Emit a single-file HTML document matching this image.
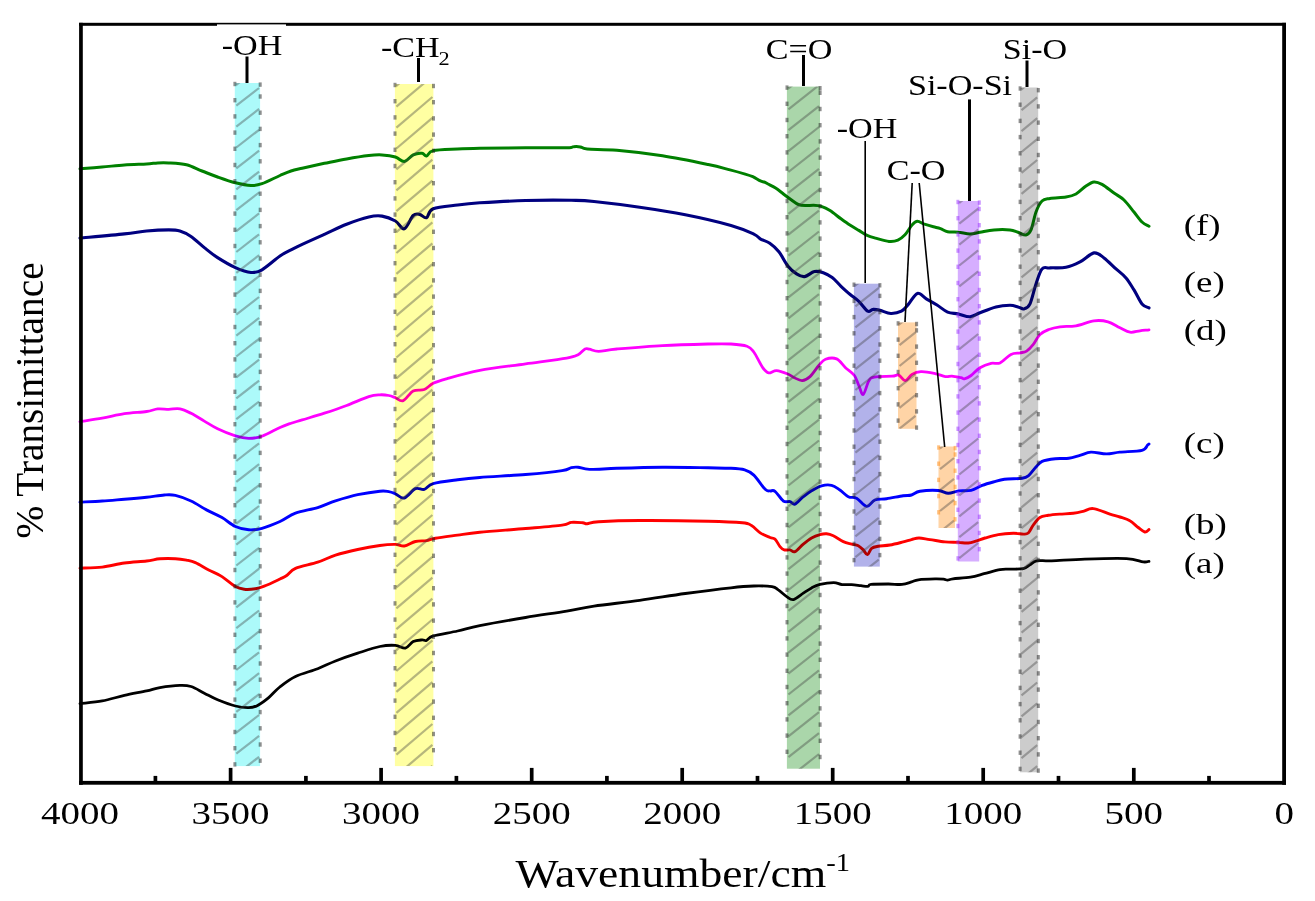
<!DOCTYPE html><html><head><meta charset="utf-8"><style>html,body{margin:0;padding:0;background:#fff;}svg{display:block;}</style></head><body><svg width="1315" height="901" viewBox="0 0 1315 901">
<rect width="1315" height="901" fill="#fff"/>
<path d="M80.0,168.8 C83.7,168.5 94.6,167.6 102.0,167.0 C109.4,166.4 117.0,165.5 124.4,165.0 C131.8,164.5 141.1,164.3 146.6,164.0 C152.1,163.7 154.0,163.1 157.7,162.9 C161.4,162.7 164.0,162.6 168.8,162.9 C173.6,163.2 181.0,163.5 186.5,164.8 C192.0,166.2 196.8,169.0 202.0,171.0 C207.2,173.0 212.0,175.0 217.6,177.0 C223.2,179.0 229.8,181.4 235.4,182.8 C241.0,184.2 246.6,185.3 251.0,185.5 C255.4,185.7 257.2,185.4 262.0,183.7 C266.8,182.0 275.2,177.6 280.0,175.5 C284.8,173.4 287.3,172.2 291.0,171.0 C294.7,169.8 296.6,169.5 302.2,168.2 C307.8,166.9 317.0,164.9 324.4,163.3 C331.8,161.8 339.2,160.2 346.6,158.9 C354.0,157.6 362.9,156.2 368.8,155.5 C374.7,154.8 377.7,154.7 382.1,154.9 C386.5,155.2 391.7,155.9 395.4,157.0 C399.1,158.1 401.3,161.8 404.3,161.5 C407.3,161.2 410.2,156.3 413.2,154.9 C416.1,153.5 419.8,153.1 422.0,153.3 C424.2,153.5 424.6,156.4 426.5,156.0 C428.4,155.6 428.0,151.8 433.2,150.6 C438.4,149.4 449.8,149.3 457.6,148.9 C465.4,148.5 468.5,148.4 479.8,148.2 C491.1,148.0 511.1,147.9 525.6,147.8 C540.1,147.7 558.7,148.0 566.7,147.8 C574.7,147.6 571.2,146.8 573.5,146.7 C575.8,146.5 578.1,146.5 580.4,146.9 C582.7,147.3 581.1,148.4 587.2,149.0 C593.3,149.6 604.4,149.2 616.9,150.3 C629.4,151.4 647.3,153.4 662.5,155.8 C677.7,158.2 697.0,162.2 708.2,164.5 C719.5,166.8 723.8,168.3 730.0,169.9 C736.2,171.5 741.4,173.0 745.2,174.1 C749.0,175.2 750.3,175.6 752.8,176.7 C755.3,177.8 758.5,180.0 760.4,180.9 C762.3,181.8 762.9,181.5 764.2,182.0 C765.5,182.5 766.1,183.0 768.0,184.0 C769.9,185.0 773.1,186.5 775.6,188.1 C778.1,189.7 780.7,191.9 783.2,193.8 C785.7,195.7 788.3,197.7 790.8,199.5 C793.3,201.3 795.9,203.5 798.4,204.5 C800.9,205.5 803.5,205.5 806.0,205.6 C808.5,205.7 811.1,205.1 813.6,205.2 C816.1,205.3 818.6,205.5 821.3,206.4 C824.0,207.3 826.7,208.5 830.0,210.6 C833.3,212.7 837.7,216.4 841.0,218.8 C844.3,221.2 846.9,223.1 849.9,225.0 C852.9,226.9 855.8,228.6 858.8,230.4 C861.8,232.2 864.7,234.4 867.7,235.7 C870.7,237.0 873.1,237.4 876.6,238.4 C880.1,239.4 885.5,241.1 889.0,241.4 C892.5,241.7 895.2,241.3 897.9,240.2 C900.6,239.1 902.6,237.3 905.0,234.8 C907.4,232.3 909.9,227.3 912.0,225.0 C914.1,222.7 915.3,221.3 917.4,221.2 C919.5,221.1 921.8,223.3 924.5,224.2 C927.2,225.1 930.7,226.1 933.4,226.8 C936.1,227.5 938.1,227.8 940.5,228.6 C942.9,229.4 944.6,231.2 947.6,231.8 C950.6,232.4 954.6,231.8 958.3,232.2 C962.0,232.5 966.4,233.9 970.0,233.9 C973.6,233.9 976.0,233.0 980.0,232.3 C984.0,231.6 989.0,230.3 994.0,229.9 C999.0,229.5 1006.0,229.5 1010.0,229.9 C1014.0,230.3 1015.3,231.5 1018.0,232.3 C1020.7,233.1 1023.8,235.3 1026.0,234.9 C1028.2,234.5 1029.3,233.7 1031.0,229.9 C1032.7,226.1 1034.2,216.8 1036.0,212.0 C1037.8,207.2 1039.7,203.3 1042.0,201.0 C1044.3,198.7 1046.0,199.1 1050.0,198.4 C1054.0,197.7 1061.7,197.7 1066.0,197.0 C1070.3,196.3 1072.7,195.8 1076.0,194.0 C1079.3,192.2 1083.0,188.0 1086.0,186.0 C1089.0,184.0 1091.3,182.3 1094.0,182.0 C1096.7,181.7 1098.7,182.6 1102.0,184.4 C1105.3,186.2 1110.3,190.4 1114.0,193.0 C1117.7,195.6 1120.7,196.8 1124.0,200.0 C1127.3,203.2 1131.0,208.3 1134.0,212.0 C1137.0,215.7 1139.5,219.6 1142.0,222.0 C1144.5,224.4 1147.8,225.6 1149.0,226.3" fill="none" stroke="#008000" stroke-width="3.0" stroke-linejoin="round" stroke-linecap="round"/>
<path d="M80.0,238.1 C87.4,237.4 113.3,235.1 124.4,233.9 C135.5,232.7 139.2,231.7 146.6,231.0 C154.0,230.3 163.2,229.9 168.8,229.9 C174.4,229.9 176.2,229.9 179.9,231.0 C183.6,232.1 186.9,233.7 191.0,236.5 C195.1,239.3 199.9,244.1 204.3,247.6 C208.7,251.1 212.4,254.3 217.6,257.6 C222.8,260.9 229.8,265.1 235.4,267.6 C241.0,270.1 246.6,272.1 251.0,272.5 C255.4,272.9 257.2,272.6 262.0,269.8 C266.8,267.1 275.2,259.3 280.0,256.0 C284.8,252.7 287.3,251.8 291.0,249.9 C294.7,248.0 296.6,246.9 302.2,244.3 C307.8,241.7 317.0,237.6 324.4,234.3 C331.8,231.0 339.2,227.2 346.6,224.3 C354.0,221.4 362.9,218.4 368.8,217.0 C374.7,215.6 377.7,215.4 382.1,216.1 C386.5,216.8 391.7,218.9 395.4,221.0 C399.1,223.1 401.3,229.7 404.3,228.8 C407.3,227.9 410.6,217.9 413.2,215.5 C415.8,213.1 417.6,214.0 419.8,214.4 C422.0,214.8 424.3,218.6 426.5,217.7 C428.7,216.8 428.0,210.9 433.2,208.8 C438.4,206.7 449.8,206.0 457.6,205.0 C465.4,204.0 468.5,203.6 479.8,202.8 C491.1,202.1 510.4,200.9 525.6,200.5 C540.9,200.1 559.9,200.1 571.3,200.3 C582.7,200.5 582.6,200.3 594.0,201.5 C605.4,202.7 624.5,205.0 639.7,207.2 C654.9,209.4 670.1,211.7 685.3,214.7 C700.5,217.7 719.6,222.2 731.0,225.4 C742.4,228.6 748.9,231.8 753.8,234.1 C758.7,236.4 757.9,237.6 760.6,239.1 C763.3,240.6 766.8,241.1 769.8,243.2 C772.8,245.3 775.9,247.9 778.9,251.7 C781.9,255.5 784.8,262.2 787.8,265.9 C790.8,269.6 793.8,272.1 796.6,273.9 C799.4,275.7 801.6,277.0 804.6,276.6 C807.6,276.2 811.3,272.2 814.4,271.6 C817.5,271.0 820.3,271.7 823.3,272.7 C826.3,273.7 829.2,275.2 832.2,277.5 C835.2,279.8 838.0,283.5 841.0,286.3 C844.0,289.1 846.9,291.8 849.9,294.3 C852.9,296.8 855.8,298.6 858.8,301.4 C861.8,304.2 865.3,309.9 867.7,311.2 C870.1,312.5 870.9,309.5 873.0,309.4 C875.1,309.2 877.1,309.6 880.1,310.3 C883.1,311.0 887.2,313.4 890.8,313.5 C894.3,313.6 898.4,312.8 901.4,311.2 C904.4,309.6 905.8,307.1 908.5,304.1 C911.2,301.1 914.4,294.3 917.4,293.4 C920.4,292.5 923.0,296.9 926.3,298.8 C929.6,300.7 933.5,302.8 937.0,305.0 C940.5,307.2 944.1,310.6 947.6,312.1 C951.1,313.6 954.6,313.1 958.3,313.9 C962.0,314.7 966.4,317.0 970.0,316.8 C973.6,316.6 975.7,314.5 980.0,312.8 C984.3,311.1 991.0,308.1 996.0,306.9 C1001.0,305.6 1006.3,305.3 1010.0,305.3 C1013.7,305.3 1015.7,306.3 1018.0,306.9 C1020.3,307.5 1022.0,309.4 1024.0,308.9 C1026.0,308.4 1028.0,308.1 1030.0,303.9 C1032.0,299.7 1034.0,289.7 1036.0,283.9 C1038.0,278.1 1039.7,271.6 1042.0,268.9 C1044.3,266.2 1046.0,268.2 1050.0,267.9 C1054.0,267.6 1061.0,268.3 1066.0,267.3 C1071.0,266.3 1075.3,264.3 1080.0,261.9 C1084.7,259.5 1090.0,253.6 1094.0,252.9 C1098.0,252.2 1100.3,255.2 1104.0,257.9 C1107.7,260.6 1112.3,265.6 1116.0,268.9 C1119.7,272.2 1123.0,274.4 1126.0,277.9 C1129.0,281.4 1131.3,285.6 1134.0,289.9 C1136.7,294.2 1139.5,300.9 1142.0,303.9 C1144.5,306.9 1147.8,307.2 1149.0,307.9" fill="none" stroke="#000080" stroke-width="3.1" stroke-linejoin="round" stroke-linecap="round"/>
<path d="M80.0,421.7 C83.7,421.1 94.8,419.5 102.2,418.2 C109.6,416.9 117.0,414.8 124.4,413.7 C131.8,412.6 141.1,412.3 146.6,411.5 C152.1,410.7 154.0,409.3 157.7,408.9 C161.4,408.5 165.1,409.3 168.8,409.3 C172.5,409.3 176.2,408.2 179.9,408.9 C183.6,409.6 186.9,411.3 191.0,413.3 C195.1,415.3 199.9,418.5 204.3,421.1 C208.7,423.7 212.4,426.3 217.6,428.8 C222.8,431.3 230.2,434.3 235.4,435.9 C240.6,437.5 244.3,438.3 248.7,438.4 C253.1,438.4 256.8,438.0 262.0,436.2 C267.2,434.4 275.1,429.7 280.0,427.5 C284.9,425.3 287.4,424.5 291.1,423.2 C294.8,421.9 296.6,421.6 302.2,419.9 C307.8,418.2 317.0,415.6 324.4,413.2 C331.8,410.8 339.2,408.3 346.6,405.5 C354.0,402.7 363.2,398.4 368.8,396.6 C374.4,394.8 376.6,395.0 379.9,394.8 C383.2,394.6 386.2,395.0 388.8,395.5 C391.4,396.0 393.0,396.8 395.4,397.7 C397.8,398.6 400.2,401.7 403.2,400.6 C406.2,399.5 409.7,392.9 413.2,391.0 C416.7,389.1 421.0,390.8 424.3,389.5 C427.6,388.2 429.5,385.1 433.2,383.3 C436.9,381.5 438.7,381.0 446.5,378.8 C454.3,376.6 466.6,372.9 479.8,370.4 C493.0,367.9 511.1,365.9 525.6,363.8 C540.1,361.8 558.0,359.6 566.7,358.1 C575.5,356.6 575.1,356.2 578.1,354.7 C581.1,353.2 583.1,349.9 585.0,349.0 C586.9,348.1 587.2,348.8 589.5,349.2 C591.8,349.6 594.0,351.3 598.6,351.3 C603.2,351.3 606.2,349.9 616.9,349.0 C627.5,348.1 647.3,346.4 662.5,345.6 C677.7,344.8 696.8,344.3 708.2,344.0 C719.6,343.7 724.5,343.6 731.0,344.0 C737.5,344.4 743.2,344.9 747.0,346.2 C750.8,347.5 751.1,348.4 753.8,352.0 C756.4,355.6 760.4,364.4 762.9,367.9 C765.4,371.4 766.3,372.4 768.6,372.9 C770.9,373.3 773.4,370.4 776.6,370.6 C779.8,370.8 784.8,372.8 787.8,374.0 C790.8,375.2 792.0,376.6 794.4,377.7 C796.8,378.8 799.6,380.8 802.2,380.6 C804.8,380.4 807.2,379.1 810.0,376.6 C812.8,374.1 816.2,368.4 818.8,365.5 C821.4,362.6 822.5,360.4 825.5,359.3 C828.5,358.2 833.3,357.5 836.6,358.9 C839.9,360.3 842.5,364.9 845.5,367.7 C848.5,370.5 852.2,372.5 854.4,375.5 C856.6,378.5 857.3,382.4 858.8,385.5 C860.3,388.6 861.5,395.1 863.2,394.4 C864.9,393.6 866.9,383.9 868.8,381.0 C870.6,378.1 870.4,377.9 874.3,377.1 C878.2,376.3 888.0,376.5 892.1,376.2 C896.2,375.9 896.5,374.4 898.7,375.1 C900.9,375.8 903.2,380.7 905.4,380.6 C907.6,380.5 909.4,375.9 912.0,374.4 C914.6,372.9 917.2,371.9 920.9,371.7 C924.6,371.5 930.2,372.5 934.3,373.3 C938.4,374.1 942.4,376.1 945.4,376.6 C948.4,377.1 949.4,376.0 952.0,376.2 C954.6,376.4 958.8,377.3 960.9,377.7 C963.0,378.1 962.7,379.2 964.4,378.8 C966.1,378.4 968.5,377.4 971.1,375.5 C973.7,373.6 976.7,369.7 980.0,367.7 C983.3,365.7 987.8,364.1 991.1,363.3 C994.4,362.5 996.7,364.4 1000.0,362.9 C1003.3,361.4 1007.7,356.1 1011.0,354.4 C1014.3,352.7 1017.4,353.4 1020.0,352.9 C1022.6,352.3 1024.4,352.5 1026.6,351.1 C1028.8,349.7 1031.1,347.2 1033.3,344.4 C1035.5,341.6 1037.4,336.9 1040.0,334.4 C1042.6,331.9 1045.5,330.8 1048.8,329.5 C1052.1,328.2 1055.5,327.4 1060.0,326.8 C1064.5,326.2 1070.3,326.8 1076.0,325.8 C1081.7,324.8 1088.7,321.5 1094.0,320.8 C1099.3,320.1 1103.7,320.6 1108.0,321.8 C1112.3,323.0 1116.3,326.1 1120.0,327.8 C1123.7,329.5 1126.7,331.7 1130.0,332.2 C1133.3,332.7 1136.8,331.2 1140.0,330.8 C1143.2,330.4 1147.5,330.0 1149.0,329.8" fill="none" stroke="#ff00ff" stroke-width="2.8" stroke-linejoin="round" stroke-linecap="round"/>
<path d="M80.0,502.1 C83.7,501.9 94.8,501.5 102.2,501.0 C109.6,500.5 117.0,499.8 124.4,499.2 C131.8,498.6 139.9,497.9 146.6,497.2 C153.2,496.5 159.5,495.3 164.3,495.0 C169.1,494.7 171.0,494.4 175.4,495.4 C179.8,496.4 185.8,498.6 191.0,501.0 C196.2,503.4 201.3,507.1 206.5,509.9 C211.7,512.7 217.2,514.8 222.0,517.6 C226.8,520.4 231.0,524.5 235.4,526.5 C239.8,528.5 244.3,529.5 248.7,529.8 C253.1,530.1 256.8,529.7 262.0,528.3 C267.2,526.9 274.4,524.0 280.0,521.5 C285.6,519.0 289.2,515.4 295.5,513.1 C301.8,510.8 311.0,509.6 317.7,507.6 C324.4,505.6 328.8,503.0 335.5,500.9 C342.2,498.8 350.3,496.3 357.7,494.7 C365.1,493.1 374.7,491.7 379.9,491.2 C385.1,490.7 386.2,491.2 388.8,491.6 C391.4,492.0 392.8,492.7 395.4,493.8 C398.0,494.9 401.0,498.9 404.3,498.0 C407.6,497.1 412.1,490.1 415.4,488.7 C418.7,487.3 421.3,490.2 424.3,489.4 C427.3,488.5 427.6,485.2 433.2,483.6 C438.8,482.0 449.8,480.8 457.6,479.8 C465.4,478.8 468.5,478.4 479.8,477.5 C491.1,476.6 511.9,475.6 525.6,474.5 C539.3,473.4 554.5,471.8 562.1,470.6 C569.7,469.5 568.6,468.2 571.3,467.6 C574.0,467.0 575.1,466.9 578.1,467.2 C581.1,467.5 583.0,469.2 589.5,469.4 C596.0,469.6 604.7,468.7 616.9,468.3 C629.1,467.9 647.3,467.3 662.5,467.2 C677.7,467.1 696.8,467.6 708.2,467.8 C719.6,468.0 724.9,468.0 731.0,468.3 C737.1,468.6 740.9,468.8 744.7,469.9 C748.5,471.0 750.4,471.9 753.8,475.1 C757.2,478.3 762.5,486.7 765.2,489.3 C767.9,491.9 768.4,490.6 770.0,490.9 C771.6,491.2 772.8,489.6 775.0,491.3 C777.2,493.0 780.8,499.3 783.3,501.0 C785.8,502.7 788.0,501.1 790.0,501.6 C792.0,502.1 792.8,504.9 795.0,504.1 C797.2,503.3 800.5,498.9 803.3,496.7 C806.1,494.5 808.5,492.6 811.6,490.8 C814.7,489.0 818.3,486.7 821.6,485.8 C824.9,484.9 828.6,484.6 831.6,485.3 C834.6,486.0 837.1,488.1 839.9,490.0 C842.7,491.9 845.5,495.3 848.3,496.7 C851.1,498.1 853.5,496.7 856.6,498.3 C859.7,499.9 863.6,506.1 866.6,506.4 C869.6,506.7 871.6,501.3 874.9,500.0 C878.2,498.7 881.9,499.4 886.6,498.7 C891.3,498.0 899.1,496.4 903.2,495.8 C907.4,495.2 908.7,495.8 911.5,495.0 C914.3,494.2 915.4,492.1 919.9,491.3 C924.4,490.6 933.5,490.2 938.2,490.5 C942.9,490.8 944.8,493.2 948.2,493.3 C951.6,493.4 954.9,491.4 958.7,490.9 C962.5,490.4 967.2,491.2 971.1,490.3 C975.0,489.4 978.5,486.8 982.2,485.4 C985.9,484.0 989.6,483.0 993.3,482.0 C997.0,481.0 999.6,479.8 1004.4,479.2 C1009.2,478.6 1018.1,478.9 1022.2,478.3 C1026.3,477.7 1026.6,477.2 1028.8,475.4 C1031.0,473.6 1033.3,469.9 1035.5,467.6 C1037.7,465.3 1038.8,462.9 1042.1,461.4 C1045.4,459.9 1051.0,459.2 1055.4,458.7 C1059.9,458.2 1064.7,458.9 1068.8,458.3 C1072.9,457.8 1076.2,456.4 1079.9,455.4 C1083.6,454.4 1086.6,452.4 1091.0,452.1 C1095.4,451.9 1101.7,453.9 1106.5,453.9 C1111.3,453.9 1113.9,452.7 1119.8,452.1 C1125.7,451.5 1137.4,451.5 1142.0,450.3 C1146.6,449.1 1146.4,446.1 1147.6,445.0 C1148.8,443.9 1148.8,444.2 1149.0,444.0" fill="none" stroke="#0000ff" stroke-width="2.9" stroke-linejoin="round" stroke-linecap="round"/>
<path d="M80.0,568.2 C83.7,568.0 94.8,568.0 102.2,567.1 C109.6,566.2 117.0,564.0 124.4,563.0 C131.8,562.0 140.7,561.7 146.6,561.0 C152.5,560.3 155.1,559.2 159.9,558.8 C164.7,558.4 171.0,558.5 175.4,558.7 C179.8,558.9 183.2,559.5 186.5,560.1 C189.8,560.8 191.7,561.0 195.4,562.6 C199.1,564.2 204.3,567.7 208.7,570.0 C213.1,572.3 217.6,573.8 222.0,576.6 C226.4,579.4 231.7,584.5 235.4,586.6 C239.1,588.7 241.0,588.9 244.3,589.3 C247.6,589.7 252.1,589.3 255.4,588.8 C258.7,588.3 260.1,587.8 264.2,586.2 C268.3,584.6 276.2,580.8 280.0,579.0 C283.8,577.2 284.1,577.3 286.7,575.5 C289.3,573.7 290.3,570.6 295.5,568.4 C300.7,566.2 311.0,564.4 317.7,562.2 C324.4,560.0 328.8,557.2 335.5,555.1 C342.2,553.0 350.3,551.1 357.7,549.5 C365.1,547.9 373.6,546.4 379.9,545.5 C386.2,544.6 391.3,544.3 395.4,544.4 C399.5,544.5 401.0,546.5 404.3,546.0 C407.6,545.5 411.7,542.4 415.4,541.5 C419.1,540.6 423.2,541.1 426.5,540.6 C429.8,540.1 430.2,539.1 435.4,538.2 C440.6,537.3 450.2,536.1 457.6,535.1 C465.0,534.1 468.5,533.4 479.8,532.3 C491.1,531.2 511.9,529.7 525.6,528.5 C539.3,527.3 554.5,526.1 562.1,525.1 C569.7,524.1 567.9,522.8 571.3,522.4 C574.7,522.0 580.1,522.6 582.7,522.8 C585.4,523.0 584.6,523.9 587.2,523.7 C589.9,523.5 589.9,522.2 598.6,521.7 C607.4,521.2 621.4,520.6 639.7,520.5 C658.0,520.4 691.1,520.8 708.2,521.2 C725.3,521.6 735.2,522.1 742.4,522.8 C749.6,523.5 748.5,523.9 751.5,525.6 C754.5,527.3 757.5,531.1 760.6,533.1 C763.7,535.1 767.6,536.5 770.0,537.5 C772.4,538.5 773.3,537.6 775.0,539.1 C776.7,540.6 778.5,544.8 780.0,546.6 C781.5,548.4 782.5,549.4 784.2,549.9 C785.9,550.4 788.2,549.6 790.0,549.9 C791.8,550.2 792.8,552.6 795.0,551.6 C797.2,550.6 800.5,546.4 803.3,544.1 C806.1,541.8 808.8,539.6 811.6,538.0 C814.4,536.4 817.5,535.3 820.0,534.6 C822.5,533.9 824.4,533.6 826.6,533.8 C828.8,534.0 830.5,534.5 833.3,535.8 C836.1,537.1 840.2,540.2 843.3,541.6 C846.3,543.0 849.1,543.4 851.6,544.1 C854.1,544.8 856.3,544.8 858.3,545.8 C860.2,546.8 861.8,548.4 863.3,549.9 C864.8,551.4 866.0,554.9 867.4,554.6 C868.8,554.3 869.8,549.7 871.6,548.3 C873.4,546.9 875.2,546.8 878.2,546.3 C881.2,545.8 885.7,545.7 889.9,545.0 C894.1,544.3 899.6,542.8 903.2,541.9 C906.8,541.0 908.9,540.2 911.5,539.6 C914.1,539.0 915.9,538.0 919.0,538.0 C922.1,538.0 925.6,539.0 929.9,539.6 C934.2,540.2 940.2,541.4 944.9,541.9 C949.6,542.4 954.3,542.2 958.2,542.4 C962.1,542.6 965.2,543.3 968.3,543.0 C971.4,542.7 973.9,541.6 976.7,540.8 C979.5,540.0 981.4,539.0 985.0,538.0 C988.6,537.0 993.6,535.4 998.3,534.6 C1003.0,533.8 1009.1,533.4 1013.3,533.3 C1017.5,533.2 1020.8,534.1 1023.3,534.1 C1025.8,534.1 1026.6,534.5 1028.3,533.0 C1030.0,531.5 1031.4,527.6 1033.3,525.0 C1035.2,522.4 1037.4,519.1 1039.9,517.5 C1042.4,515.9 1045.0,515.9 1048.3,515.3 C1051.6,514.7 1055.8,514.4 1059.9,514.1 C1064.1,513.8 1069.3,513.8 1073.2,513.3 C1077.1,512.8 1079.9,512.1 1083.2,511.3 C1086.5,510.5 1088.8,508.1 1093.2,508.6 C1097.7,509.1 1105.5,512.7 1109.9,514.1 C1114.4,515.5 1116.6,515.9 1119.9,517.0 C1123.2,518.1 1126.9,519.0 1129.9,520.8 C1133.0,522.5 1135.7,525.6 1138.2,527.5 C1140.7,529.4 1143.0,531.6 1144.8,532.0 C1146.6,532.4 1148.3,530.0 1149.0,529.6" fill="none" stroke="#ff0000" stroke-width="2.9" stroke-linejoin="round" stroke-linecap="round"/>
<path d="M80.0,703.6 C83.7,703.1 94.8,702.3 102.2,700.9 C109.6,699.5 117.0,697.1 124.4,695.4 C131.8,693.7 140.7,692.2 146.6,690.9 C152.5,689.6 154.3,688.5 159.9,687.6 C165.5,686.7 174.7,685.6 179.9,685.4 C185.1,685.2 186.9,685.2 191.0,686.5 C195.1,687.8 199.9,691.0 204.3,693.2 C208.7,695.4 212.4,697.7 217.6,699.8 C222.8,701.9 230.2,704.7 235.4,706.0 C240.6,707.3 245.0,707.7 248.7,707.6 C252.4,707.5 254.3,707.1 257.6,705.4 C260.9,703.7 265.0,700.7 268.7,697.6 C272.4,694.5 275.3,690.5 279.8,687.0 C284.3,683.5 289.2,679.5 295.5,676.5 C301.8,673.5 311.0,671.3 317.7,668.7 C324.4,666.1 328.8,663.6 335.5,661.0 C342.2,658.4 350.3,655.6 357.7,653.2 C365.1,650.8 373.6,647.8 379.9,646.5 C386.2,645.2 391.1,645.1 395.4,645.4 C399.6,645.7 402.4,648.7 405.4,648.1 C408.4,647.5 410.4,643.0 413.2,641.6 C416.0,640.2 419.8,640.1 422.0,639.9 C424.2,639.7 424.6,641.2 426.5,640.5 C428.4,639.8 428.0,637.5 433.2,635.9 C438.4,634.3 449.8,632.7 457.6,631.0 C465.4,629.3 468.5,627.9 479.8,625.6 C491.1,623.4 511.1,619.9 525.6,617.5 C540.1,615.1 555.3,613.0 566.7,611.1 C578.1,609.2 581.8,607.9 594.0,606.1 C606.2,604.3 624.5,602.5 639.7,600.4 C654.9,598.3 670.1,595.6 685.3,593.5 C700.5,591.4 719.6,589.0 731.0,587.8 C742.4,586.5 747.0,586.2 753.8,586.0 C760.6,585.8 767.9,586.1 772.0,586.7 C776.1,587.4 775.8,588.2 778.3,589.9 C780.8,591.5 784.2,595.0 786.7,596.6 C789.2,598.2 790.7,600.2 793.5,599.6 C796.3,599.0 800.3,595.2 803.3,593.2 C806.3,591.2 808.8,589.4 811.6,587.9 C814.4,586.4 816.3,585.3 820.0,584.4 C823.7,583.5 830.0,582.6 833.7,582.6 C837.4,582.6 839.0,584.3 842.0,584.6 C845.0,584.9 848.3,584.4 851.5,584.6 C854.7,584.8 858.3,585.4 861.0,585.7 C863.7,586.0 866.2,586.6 867.9,586.4 C869.6,586.2 867.6,584.8 871.0,584.4 C874.4,584.0 883.2,584.0 888.4,584.0 C893.6,584.0 898.1,584.8 902.0,584.4 C905.9,584.0 908.9,582.7 911.6,581.9 C914.3,581.1 914.5,580.3 918.4,579.8 C922.3,579.3 930.8,579.0 935.0,578.9 C939.2,578.8 941.4,579.0 943.5,579.2 C945.6,579.4 946.0,580.2 947.6,580.1 C949.2,580.0 949.2,579.3 953.0,578.8 C956.8,578.3 965.3,578.0 970.5,577.1 C975.7,576.2 979.1,575.0 984.0,573.7 C988.9,572.5 995.7,570.4 1000.0,569.6 C1004.3,568.8 1006.1,569.3 1010.0,569.1 C1013.9,568.9 1020.0,569.3 1023.3,568.6 C1026.6,567.9 1027.7,566.2 1029.9,564.9 C1032.1,563.6 1033.0,561.5 1036.6,560.8 C1040.2,560.1 1043.5,561.1 1051.6,560.8 C1059.6,560.5 1072.4,559.5 1084.9,559.1 C1097.4,558.7 1116.8,558.1 1126.5,558.6 C1136.2,559.1 1139.5,561.5 1143.2,561.9 C1147.0,562.3 1148.0,561.4 1149.0,561.3" fill="none" stroke="#000000" stroke-width="2.8" stroke-linejoin="round" stroke-linecap="round"/>
<defs><clipPath id="cb0"><rect x="234.8" y="83.0" width="25.3" height="683.1"/></clipPath><clipPath id="cb1"><rect x="394.9" y="84.0" width="38.5" height="682.1"/></clipPath><clipPath id="cb2"><rect x="786.9" y="86.6" width="33.1" height="682.1"/></clipPath><clipPath id="cb3"><rect x="853.9" y="283.7" width="25.9" height="282.9"/></clipPath><clipPath id="cb4"><rect x="898.0" y="322.4" width="18.5" height="106.4"/></clipPath><clipPath id="cb5"><rect x="938.5" y="446.5" width="16.5" height="81.5"/></clipPath><clipPath id="cb6"><rect x="957.8" y="201.0" width="21.4" height="360.5"/></clipPath><clipPath id="cb7"><rect x="1020.0" y="87.5" width="18.2" height="684.8"/></clipPath></defs>
<rect x="234.8" y="83.0" width="25.3" height="683.1" fill="rgb(172,250,250)" style="mix-blend-mode:multiply"/>
<g clip-path="url(#cb0)" stroke="#404040" stroke-opacity="0.38" stroke-width="2.2"><line x1="236.3" y1="84.8" x2="259.1" y2="67.1"/><line x1="236.3" y1="105.7" x2="259.1" y2="88.0"/><line x1="236.3" y1="126.6" x2="259.1" y2="108.9"/><line x1="236.3" y1="147.5" x2="259.1" y2="129.8"/><line x1="236.3" y1="168.4" x2="259.1" y2="150.7"/><line x1="236.3" y1="189.3" x2="259.1" y2="171.6"/><line x1="236.3" y1="210.2" x2="259.1" y2="192.5"/><line x1="236.3" y1="231.1" x2="259.1" y2="213.4"/><line x1="236.3" y1="252.0" x2="259.1" y2="234.3"/><line x1="236.3" y1="272.9" x2="259.1" y2="255.2"/><line x1="236.3" y1="293.8" x2="259.1" y2="276.1"/><line x1="236.3" y1="314.7" x2="259.1" y2="297.0"/><line x1="236.3" y1="335.6" x2="259.1" y2="317.9"/><line x1="236.3" y1="356.5" x2="259.1" y2="338.8"/><line x1="236.3" y1="377.4" x2="259.1" y2="359.7"/><line x1="236.3" y1="398.3" x2="259.1" y2="380.6"/><line x1="236.3" y1="419.2" x2="259.1" y2="401.5"/><line x1="236.3" y1="440.1" x2="259.1" y2="422.4"/><line x1="236.3" y1="461.0" x2="259.1" y2="443.3"/><line x1="236.3" y1="481.9" x2="259.1" y2="464.2"/><line x1="236.3" y1="502.8" x2="259.1" y2="485.1"/><line x1="236.3" y1="523.7" x2="259.1" y2="506.0"/><line x1="236.3" y1="544.6" x2="259.1" y2="526.9"/><line x1="236.3" y1="565.5" x2="259.1" y2="547.8"/><line x1="236.3" y1="586.4" x2="259.1" y2="568.7"/><line x1="236.3" y1="607.3" x2="259.1" y2="589.6"/><line x1="236.3" y1="628.2" x2="259.1" y2="610.5"/><line x1="236.3" y1="649.1" x2="259.1" y2="631.4"/><line x1="236.3" y1="670.0" x2="259.1" y2="652.3"/><line x1="236.3" y1="690.9" x2="259.1" y2="673.2"/><line x1="236.3" y1="711.8" x2="259.1" y2="694.1"/><line x1="236.3" y1="732.7" x2="259.1" y2="715.0"/><line x1="236.3" y1="753.6" x2="259.1" y2="735.9"/><line x1="236.3" y1="774.5" x2="259.1" y2="756.8"/><line x1="236.3" y1="795.4" x2="259.1" y2="777.7"/></g>
<g fill="#202020" fill-opacity="0.5"><rect x="233.4" y="81.8" width="3" height="4.4"/><rect x="233.4" y="98.0" width="3" height="4.4"/><rect x="233.4" y="114.2" width="3" height="4.4"/><rect x="233.4" y="130.4" width="3" height="4.4"/><rect x="233.4" y="146.6" width="3" height="4.4"/><rect x="233.4" y="162.8" width="3" height="4.4"/><rect x="233.4" y="179.0" width="3" height="4.4"/><rect x="233.4" y="195.2" width="3" height="4.4"/><rect x="233.4" y="211.4" width="3" height="4.4"/><rect x="233.4" y="227.6" width="3" height="4.4"/><rect x="233.4" y="243.8" width="3" height="4.4"/><rect x="233.4" y="260.0" width="3" height="4.4"/><rect x="233.4" y="276.2" width="3" height="4.4"/><rect x="233.4" y="292.4" width="3" height="4.4"/><rect x="233.4" y="308.6" width="3" height="4.4"/><rect x="233.4" y="324.8" width="3" height="4.4"/><rect x="233.4" y="341.0" width="3" height="4.4"/><rect x="233.4" y="357.2" width="3" height="4.4"/><rect x="233.4" y="373.4" width="3" height="4.4"/><rect x="233.4" y="389.6" width="3" height="4.4"/><rect x="233.4" y="405.8" width="3" height="4.4"/><rect x="233.4" y="422.0" width="3" height="4.4"/><rect x="233.4" y="438.2" width="3" height="4.4"/><rect x="233.4" y="454.4" width="3" height="4.4"/><rect x="233.4" y="470.6" width="3" height="4.4"/><rect x="233.4" y="486.8" width="3" height="4.4"/><rect x="233.4" y="503.0" width="3" height="4.4"/><rect x="233.4" y="519.2" width="3" height="4.4"/><rect x="233.4" y="535.4" width="3" height="4.4"/><rect x="233.4" y="551.6" width="3" height="4.4"/><rect x="233.4" y="567.8" width="3" height="4.4"/><rect x="233.4" y="584.0" width="3" height="4.4"/><rect x="233.4" y="600.2" width="3" height="4.4"/><rect x="233.4" y="616.4" width="3" height="4.4"/><rect x="233.4" y="632.6" width="3" height="4.4"/><rect x="233.4" y="648.8" width="3" height="4.4"/><rect x="233.4" y="665.0" width="3" height="4.4"/><rect x="233.4" y="681.2" width="3" height="4.4"/><rect x="233.4" y="697.4" width="3" height="4.4"/><rect x="233.4" y="713.6" width="3" height="4.4"/><rect x="233.4" y="729.8" width="3" height="4.4"/><rect x="233.4" y="746.0" width="3" height="4.4"/><rect x="233.4" y="762.2" width="3" height="4.4"/><rect x="258.7" y="82.4" width="3" height="4.4"/><rect x="258.7" y="94.3" width="3" height="4.4"/><rect x="258.7" y="110.5" width="3" height="4.4"/><rect x="258.7" y="126.7" width="3" height="4.4"/><rect x="258.7" y="142.9" width="3" height="4.4"/><rect x="258.7" y="159.1" width="3" height="4.4"/><rect x="258.7" y="175.3" width="3" height="4.4"/><rect x="258.7" y="191.5" width="3" height="4.4"/><rect x="258.7" y="207.7" width="3" height="4.4"/><rect x="258.7" y="223.9" width="3" height="4.4"/><rect x="258.7" y="240.1" width="3" height="4.4"/><rect x="258.7" y="256.3" width="3" height="4.4"/><rect x="258.7" y="272.5" width="3" height="4.4"/><rect x="258.7" y="288.7" width="3" height="4.4"/><rect x="258.7" y="304.9" width="3" height="4.4"/><rect x="258.7" y="321.1" width="3" height="4.4"/><rect x="258.7" y="337.3" width="3" height="4.4"/><rect x="258.7" y="353.5" width="3" height="4.4"/><rect x="258.7" y="369.7" width="3" height="4.4"/><rect x="258.7" y="385.9" width="3" height="4.4"/><rect x="258.7" y="402.1" width="3" height="4.4"/><rect x="258.7" y="418.3" width="3" height="4.4"/><rect x="258.7" y="434.5" width="3" height="4.4"/><rect x="258.7" y="450.7" width="3" height="4.4"/><rect x="258.7" y="466.9" width="3" height="4.4"/><rect x="258.7" y="483.1" width="3" height="4.4"/><rect x="258.7" y="499.3" width="3" height="4.4"/><rect x="258.7" y="515.5" width="3" height="4.4"/><rect x="258.7" y="531.7" width="3" height="4.4"/><rect x="258.7" y="547.9" width="3" height="4.4"/><rect x="258.7" y="564.1" width="3" height="4.4"/><rect x="258.7" y="580.3" width="3" height="4.4"/><rect x="258.7" y="596.5" width="3" height="4.4"/><rect x="258.7" y="612.7" width="3" height="4.4"/><rect x="258.7" y="628.9" width="3" height="4.4"/><rect x="258.7" y="645.1" width="3" height="4.4"/><rect x="258.7" y="661.3" width="3" height="4.4"/><rect x="258.7" y="677.5" width="3" height="4.4"/><rect x="258.7" y="693.7" width="3" height="4.4"/><rect x="258.7" y="709.9" width="3" height="4.4"/><rect x="258.7" y="726.1" width="3" height="4.4"/><rect x="258.7" y="742.3" width="3" height="4.4"/><rect x="258.7" y="758.5" width="3" height="4.4"/></g>
<rect x="394.9" y="84.0" width="38.5" height="682.1" fill="rgb(255,255,162)" style="mix-blend-mode:multiply"/>
<g clip-path="url(#cb1)" stroke="#404040" stroke-opacity="0.38" stroke-width="2.2"><line x1="396.4" y1="85.8" x2="432.4" y2="55.2"/><line x1="396.4" y1="106.7" x2="432.4" y2="76.1"/><line x1="396.4" y1="127.6" x2="432.4" y2="97.0"/><line x1="396.4" y1="148.5" x2="432.4" y2="117.9"/><line x1="396.4" y1="169.4" x2="432.4" y2="138.8"/><line x1="396.4" y1="190.3" x2="432.4" y2="159.7"/><line x1="396.4" y1="211.2" x2="432.4" y2="180.6"/><line x1="396.4" y1="232.1" x2="432.4" y2="201.5"/><line x1="396.4" y1="253.0" x2="432.4" y2="222.4"/><line x1="396.4" y1="273.9" x2="432.4" y2="243.3"/><line x1="396.4" y1="294.8" x2="432.4" y2="264.2"/><line x1="396.4" y1="315.7" x2="432.4" y2="285.1"/><line x1="396.4" y1="336.6" x2="432.4" y2="306.0"/><line x1="396.4" y1="357.5" x2="432.4" y2="326.9"/><line x1="396.4" y1="378.4" x2="432.4" y2="347.8"/><line x1="396.4" y1="399.3" x2="432.4" y2="368.7"/><line x1="396.4" y1="420.2" x2="432.4" y2="389.6"/><line x1="396.4" y1="441.1" x2="432.4" y2="410.5"/><line x1="396.4" y1="462.0" x2="432.4" y2="431.4"/><line x1="396.4" y1="482.9" x2="432.4" y2="452.3"/><line x1="396.4" y1="503.8" x2="432.4" y2="473.2"/><line x1="396.4" y1="524.7" x2="432.4" y2="494.1"/><line x1="396.4" y1="545.6" x2="432.4" y2="515.0"/><line x1="396.4" y1="566.5" x2="432.4" y2="535.9"/><line x1="396.4" y1="587.4" x2="432.4" y2="556.8"/><line x1="396.4" y1="608.3" x2="432.4" y2="577.7"/><line x1="396.4" y1="629.2" x2="432.4" y2="598.6"/><line x1="396.4" y1="650.1" x2="432.4" y2="619.5"/><line x1="396.4" y1="671.0" x2="432.4" y2="640.4"/><line x1="396.4" y1="691.9" x2="432.4" y2="661.3"/><line x1="396.4" y1="712.8" x2="432.4" y2="682.2"/><line x1="396.4" y1="733.7" x2="432.4" y2="703.1"/><line x1="396.4" y1="754.6" x2="432.4" y2="724.0"/><line x1="396.4" y1="775.5" x2="432.4" y2="744.9"/><line x1="396.4" y1="796.4" x2="432.4" y2="765.8"/><line x1="396.4" y1="817.3" x2="432.4" y2="786.7"/></g>
<g fill="#202020" fill-opacity="0.5"><rect x="393.5" y="82.8" width="3" height="4.4"/><rect x="393.5" y="99.0" width="3" height="4.4"/><rect x="393.5" y="115.2" width="3" height="4.4"/><rect x="393.5" y="131.4" width="3" height="4.4"/><rect x="393.5" y="147.6" width="3" height="4.4"/><rect x="393.5" y="163.8" width="3" height="4.4"/><rect x="393.5" y="180.0" width="3" height="4.4"/><rect x="393.5" y="196.2" width="3" height="4.4"/><rect x="393.5" y="212.4" width="3" height="4.4"/><rect x="393.5" y="228.6" width="3" height="4.4"/><rect x="393.5" y="244.8" width="3" height="4.4"/><rect x="393.5" y="261.0" width="3" height="4.4"/><rect x="393.5" y="277.2" width="3" height="4.4"/><rect x="393.5" y="293.4" width="3" height="4.4"/><rect x="393.5" y="309.6" width="3" height="4.4"/><rect x="393.5" y="325.8" width="3" height="4.4"/><rect x="393.5" y="342.0" width="3" height="4.4"/><rect x="393.5" y="358.2" width="3" height="4.4"/><rect x="393.5" y="374.4" width="3" height="4.4"/><rect x="393.5" y="390.6" width="3" height="4.4"/><rect x="393.5" y="406.8" width="3" height="4.4"/><rect x="393.5" y="423.0" width="3" height="4.4"/><rect x="393.5" y="439.2" width="3" height="4.4"/><rect x="393.5" y="455.4" width="3" height="4.4"/><rect x="393.5" y="471.6" width="3" height="4.4"/><rect x="393.5" y="487.8" width="3" height="4.4"/><rect x="393.5" y="504.0" width="3" height="4.4"/><rect x="393.5" y="520.2" width="3" height="4.4"/><rect x="393.5" y="536.4" width="3" height="4.4"/><rect x="393.5" y="552.6" width="3" height="4.4"/><rect x="393.5" y="568.8" width="3" height="4.4"/><rect x="393.5" y="585.0" width="3" height="4.4"/><rect x="393.5" y="601.2" width="3" height="4.4"/><rect x="393.5" y="617.4" width="3" height="4.4"/><rect x="393.5" y="633.6" width="3" height="4.4"/><rect x="393.5" y="649.8" width="3" height="4.4"/><rect x="393.5" y="666.0" width="3" height="4.4"/><rect x="393.5" y="682.2" width="3" height="4.4"/><rect x="393.5" y="698.4" width="3" height="4.4"/><rect x="393.5" y="714.6" width="3" height="4.4"/><rect x="393.5" y="730.8" width="3" height="4.4"/><rect x="393.5" y="747.0" width="3" height="4.4"/><rect x="432.0" y="83.8" width="3" height="4.4"/><rect x="432.0" y="100.0" width="3" height="4.4"/><rect x="432.0" y="116.2" width="3" height="4.4"/><rect x="432.0" y="132.4" width="3" height="4.4"/><rect x="432.0" y="148.6" width="3" height="4.4"/><rect x="432.0" y="164.8" width="3" height="4.4"/><rect x="432.0" y="181.0" width="3" height="4.4"/><rect x="432.0" y="197.2" width="3" height="4.4"/><rect x="432.0" y="213.4" width="3" height="4.4"/><rect x="432.0" y="229.6" width="3" height="4.4"/><rect x="432.0" y="245.8" width="3" height="4.4"/><rect x="432.0" y="262.0" width="3" height="4.4"/><rect x="432.0" y="278.2" width="3" height="4.4"/><rect x="432.0" y="294.4" width="3" height="4.4"/><rect x="432.0" y="310.6" width="3" height="4.4"/><rect x="432.0" y="326.8" width="3" height="4.4"/><rect x="432.0" y="343.0" width="3" height="4.4"/><rect x="432.0" y="359.2" width="3" height="4.4"/><rect x="432.0" y="375.4" width="3" height="4.4"/><rect x="432.0" y="391.6" width="3" height="4.4"/><rect x="432.0" y="407.8" width="3" height="4.4"/><rect x="432.0" y="424.0" width="3" height="4.4"/><rect x="432.0" y="440.2" width="3" height="4.4"/><rect x="432.0" y="456.4" width="3" height="4.4"/><rect x="432.0" y="472.6" width="3" height="4.4"/><rect x="432.0" y="488.8" width="3" height="4.4"/><rect x="432.0" y="505.0" width="3" height="4.4"/><rect x="432.0" y="521.2" width="3" height="4.4"/><rect x="432.0" y="537.4" width="3" height="4.4"/><rect x="432.0" y="553.6" width="3" height="4.4"/><rect x="432.0" y="569.8" width="3" height="4.4"/><rect x="432.0" y="586.0" width="3" height="4.4"/><rect x="432.0" y="602.2" width="3" height="4.4"/><rect x="432.0" y="618.4" width="3" height="4.4"/><rect x="432.0" y="634.6" width="3" height="4.4"/><rect x="432.0" y="650.8" width="3" height="4.4"/><rect x="432.0" y="667.0" width="3" height="4.4"/><rect x="432.0" y="683.2" width="3" height="4.4"/><rect x="432.0" y="699.4" width="3" height="4.4"/><rect x="432.0" y="715.6" width="3" height="4.4"/><rect x="432.0" y="731.8" width="3" height="4.4"/><rect x="432.0" y="748.0" width="3" height="4.4"/></g>
<rect x="786.9" y="86.6" width="33.1" height="682.1" fill="rgb(170,214,170)" style="mix-blend-mode:multiply"/>
<g clip-path="url(#cb2)" stroke="#404040" stroke-opacity="0.38" stroke-width="2.2"><line x1="788.4" y1="88.4" x2="819.0" y2="64.3"/><line x1="788.4" y1="109.3" x2="819.0" y2="85.2"/><line x1="788.4" y1="130.2" x2="819.0" y2="106.1"/><line x1="788.4" y1="151.1" x2="819.0" y2="127.0"/><line x1="788.4" y1="172.0" x2="819.0" y2="147.9"/><line x1="788.4" y1="192.9" x2="819.0" y2="168.8"/><line x1="788.4" y1="213.8" x2="819.0" y2="189.7"/><line x1="788.4" y1="234.7" x2="819.0" y2="210.6"/><line x1="788.4" y1="255.6" x2="819.0" y2="231.5"/><line x1="788.4" y1="276.5" x2="819.0" y2="252.4"/><line x1="788.4" y1="297.4" x2="819.0" y2="273.3"/><line x1="788.4" y1="318.3" x2="819.0" y2="294.2"/><line x1="788.4" y1="339.2" x2="819.0" y2="315.1"/><line x1="788.4" y1="360.1" x2="819.0" y2="336.0"/><line x1="788.4" y1="381.0" x2="819.0" y2="356.9"/><line x1="788.4" y1="401.9" x2="819.0" y2="377.8"/><line x1="788.4" y1="422.8" x2="819.0" y2="398.7"/><line x1="788.4" y1="443.7" x2="819.0" y2="419.6"/><line x1="788.4" y1="464.6" x2="819.0" y2="440.5"/><line x1="788.4" y1="485.5" x2="819.0" y2="461.4"/><line x1="788.4" y1="506.4" x2="819.0" y2="482.3"/><line x1="788.4" y1="527.3" x2="819.0" y2="503.2"/><line x1="788.4" y1="548.2" x2="819.0" y2="524.1"/><line x1="788.4" y1="569.1" x2="819.0" y2="545.0"/><line x1="788.4" y1="590.0" x2="819.0" y2="565.9"/><line x1="788.4" y1="610.9" x2="819.0" y2="586.8"/><line x1="788.4" y1="631.8" x2="819.0" y2="607.7"/><line x1="788.4" y1="652.7" x2="819.0" y2="628.6"/><line x1="788.4" y1="673.6" x2="819.0" y2="649.5"/><line x1="788.4" y1="694.5" x2="819.0" y2="670.4"/><line x1="788.4" y1="715.4" x2="819.0" y2="691.3"/><line x1="788.4" y1="736.3" x2="819.0" y2="712.2"/><line x1="788.4" y1="757.2" x2="819.0" y2="733.1"/><line x1="788.4" y1="778.1" x2="819.0" y2="754.0"/><line x1="788.4" y1="799.0" x2="819.0" y2="774.9"/></g>
<g fill="#202020" fill-opacity="0.5"><rect x="785.5" y="85.4" width="3" height="4.4"/><rect x="785.5" y="101.6" width="3" height="4.4"/><rect x="785.5" y="117.8" width="3" height="4.4"/><rect x="785.5" y="134.0" width="3" height="4.4"/><rect x="785.5" y="150.2" width="3" height="4.4"/><rect x="785.5" y="166.4" width="3" height="4.4"/><rect x="785.5" y="182.6" width="3" height="4.4"/><rect x="785.5" y="198.8" width="3" height="4.4"/><rect x="785.5" y="215.0" width="3" height="4.4"/><rect x="785.5" y="231.2" width="3" height="4.4"/><rect x="785.5" y="247.4" width="3" height="4.4"/><rect x="785.5" y="263.6" width="3" height="4.4"/><rect x="785.5" y="279.8" width="3" height="4.4"/><rect x="785.5" y="296.0" width="3" height="4.4"/><rect x="785.5" y="312.2" width="3" height="4.4"/><rect x="785.5" y="328.4" width="3" height="4.4"/><rect x="785.5" y="344.6" width="3" height="4.4"/><rect x="785.5" y="360.8" width="3" height="4.4"/><rect x="785.5" y="377.0" width="3" height="4.4"/><rect x="785.5" y="393.2" width="3" height="4.4"/><rect x="785.5" y="409.4" width="3" height="4.4"/><rect x="785.5" y="425.6" width="3" height="4.4"/><rect x="785.5" y="441.8" width="3" height="4.4"/><rect x="785.5" y="458.0" width="3" height="4.4"/><rect x="785.5" y="474.2" width="3" height="4.4"/><rect x="785.5" y="490.4" width="3" height="4.4"/><rect x="785.5" y="506.6" width="3" height="4.4"/><rect x="785.5" y="522.8" width="3" height="4.4"/><rect x="785.5" y="539.0" width="3" height="4.4"/><rect x="785.5" y="555.2" width="3" height="4.4"/><rect x="785.5" y="571.4" width="3" height="4.4"/><rect x="785.5" y="587.6" width="3" height="4.4"/><rect x="785.5" y="603.8" width="3" height="4.4"/><rect x="785.5" y="620.0" width="3" height="4.4"/><rect x="785.5" y="636.2" width="3" height="4.4"/><rect x="785.5" y="652.4" width="3" height="4.4"/><rect x="785.5" y="668.6" width="3" height="4.4"/><rect x="785.5" y="684.8" width="3" height="4.4"/><rect x="785.5" y="701.0" width="3" height="4.4"/><rect x="785.5" y="717.2" width="3" height="4.4"/><rect x="785.5" y="733.4" width="3" height="4.4"/><rect x="785.5" y="749.6" width="3" height="4.4"/><rect x="818.6" y="86.0" width="3" height="4.4"/><rect x="818.6" y="90.6" width="3" height="4.4"/><rect x="818.6" y="106.8" width="3" height="4.4"/><rect x="818.6" y="123.0" width="3" height="4.4"/><rect x="818.6" y="139.2" width="3" height="4.4"/><rect x="818.6" y="155.4" width="3" height="4.4"/><rect x="818.6" y="171.6" width="3" height="4.4"/><rect x="818.6" y="187.8" width="3" height="4.4"/><rect x="818.6" y="204.0" width="3" height="4.4"/><rect x="818.6" y="220.2" width="3" height="4.4"/><rect x="818.6" y="236.4" width="3" height="4.4"/><rect x="818.6" y="252.6" width="3" height="4.4"/><rect x="818.6" y="268.8" width="3" height="4.4"/><rect x="818.6" y="285.0" width="3" height="4.4"/><rect x="818.6" y="301.2" width="3" height="4.4"/><rect x="818.6" y="317.4" width="3" height="4.4"/><rect x="818.6" y="333.6" width="3" height="4.4"/><rect x="818.6" y="349.8" width="3" height="4.4"/><rect x="818.6" y="366.0" width="3" height="4.4"/><rect x="818.6" y="382.2" width="3" height="4.4"/><rect x="818.6" y="398.4" width="3" height="4.4"/><rect x="818.6" y="414.6" width="3" height="4.4"/><rect x="818.6" y="430.8" width="3" height="4.4"/><rect x="818.6" y="447.0" width="3" height="4.4"/><rect x="818.6" y="463.2" width="3" height="4.4"/><rect x="818.6" y="479.4" width="3" height="4.4"/><rect x="818.6" y="495.6" width="3" height="4.4"/><rect x="818.6" y="511.8" width="3" height="4.4"/><rect x="818.6" y="528.0" width="3" height="4.4"/><rect x="818.6" y="544.2" width="3" height="4.4"/><rect x="818.6" y="560.4" width="3" height="4.4"/><rect x="818.6" y="576.6" width="3" height="4.4"/><rect x="818.6" y="592.8" width="3" height="4.4"/><rect x="818.6" y="609.0" width="3" height="4.4"/><rect x="818.6" y="625.2" width="3" height="4.4"/><rect x="818.6" y="641.4" width="3" height="4.4"/><rect x="818.6" y="657.6" width="3" height="4.4"/><rect x="818.6" y="673.8" width="3" height="4.4"/><rect x="818.6" y="690.0" width="3" height="4.4"/><rect x="818.6" y="706.2" width="3" height="4.4"/><rect x="818.6" y="722.4" width="3" height="4.4"/><rect x="818.6" y="738.6" width="3" height="4.4"/><rect x="818.6" y="754.8" width="3" height="4.4"/></g>
<rect x="853.9" y="283.7" width="25.9" height="282.9" fill="rgb(178,178,234)" style="mix-blend-mode:multiply"/>
<g clip-path="url(#cb3)" stroke="#404040" stroke-opacity="0.38" stroke-width="2.2"><line x1="855.4" y1="285.5" x2="878.8" y2="267.0"/><line x1="855.4" y1="306.4" x2="878.8" y2="287.9"/><line x1="855.4" y1="327.3" x2="878.8" y2="308.8"/><line x1="855.4" y1="348.2" x2="878.8" y2="329.7"/><line x1="855.4" y1="369.1" x2="878.8" y2="350.6"/><line x1="855.4" y1="390.0" x2="878.8" y2="371.5"/><line x1="855.4" y1="410.9" x2="878.8" y2="392.4"/><line x1="855.4" y1="431.8" x2="878.8" y2="413.3"/><line x1="855.4" y1="452.7" x2="878.8" y2="434.2"/><line x1="855.4" y1="473.6" x2="878.8" y2="455.1"/><line x1="855.4" y1="494.5" x2="878.8" y2="476.0"/><line x1="855.4" y1="515.4" x2="878.8" y2="496.9"/><line x1="855.4" y1="536.3" x2="878.8" y2="517.8"/><line x1="855.4" y1="557.2" x2="878.8" y2="538.7"/><line x1="855.4" y1="578.1" x2="878.8" y2="559.6"/><line x1="855.4" y1="599.0" x2="878.8" y2="580.5"/></g>
<g fill="#202020" fill-opacity="0.5"><rect x="852.5" y="282.5" width="3" height="4.4"/><rect x="852.5" y="298.7" width="3" height="4.4"/><rect x="852.5" y="314.9" width="3" height="4.4"/><rect x="852.5" y="331.1" width="3" height="4.4"/><rect x="852.5" y="347.3" width="3" height="4.4"/><rect x="852.5" y="363.5" width="3" height="4.4"/><rect x="852.5" y="379.7" width="3" height="4.4"/><rect x="852.5" y="395.9" width="3" height="4.4"/><rect x="852.5" y="412.1" width="3" height="4.4"/><rect x="852.5" y="428.3" width="3" height="4.4"/><rect x="852.5" y="444.5" width="3" height="4.4"/><rect x="852.5" y="460.7" width="3" height="4.4"/><rect x="852.5" y="476.9" width="3" height="4.4"/><rect x="852.5" y="493.1" width="3" height="4.4"/><rect x="852.5" y="509.3" width="3" height="4.4"/><rect x="852.5" y="525.5" width="3" height="4.4"/><rect x="852.5" y="541.7" width="3" height="4.4"/><rect x="852.5" y="557.9" width="3" height="4.4"/><rect x="878.4" y="283.1" width="3" height="4.4"/><rect x="878.4" y="293.7" width="3" height="4.4"/><rect x="878.4" y="309.9" width="3" height="4.4"/><rect x="878.4" y="326.1" width="3" height="4.4"/><rect x="878.4" y="342.3" width="3" height="4.4"/><rect x="878.4" y="358.5" width="3" height="4.4"/><rect x="878.4" y="374.7" width="3" height="4.4"/><rect x="878.4" y="390.9" width="3" height="4.4"/><rect x="878.4" y="407.1" width="3" height="4.4"/><rect x="878.4" y="423.3" width="3" height="4.4"/><rect x="878.4" y="439.5" width="3" height="4.4"/><rect x="878.4" y="455.7" width="3" height="4.4"/><rect x="878.4" y="471.9" width="3" height="4.4"/><rect x="878.4" y="488.1" width="3" height="4.4"/><rect x="878.4" y="504.3" width="3" height="4.4"/><rect x="878.4" y="520.5" width="3" height="4.4"/><rect x="878.4" y="536.7" width="3" height="4.4"/><rect x="878.4" y="552.9" width="3" height="4.4"/></g>
<rect x="898.0" y="322.4" width="18.5" height="106.4" fill="rgb(255,212,166)" style="mix-blend-mode:multiply"/>
<g clip-path="url(#cb4)" stroke="#404040" stroke-opacity="0.38" stroke-width="2.2"><line x1="899.5" y1="324.2" x2="915.5" y2="311.4"/><line x1="899.5" y1="345.1" x2="915.5" y2="332.3"/><line x1="899.5" y1="366.0" x2="915.5" y2="353.2"/><line x1="899.5" y1="386.9" x2="915.5" y2="374.1"/><line x1="899.5" y1="407.8" x2="915.5" y2="395.0"/><line x1="899.5" y1="428.7" x2="915.5" y2="415.9"/><line x1="899.5" y1="449.6" x2="915.5" y2="436.8"/></g>
<g fill="#202020" fill-opacity="0.5"><rect x="896.6" y="321.2" width="3" height="4.4"/><rect x="896.6" y="337.4" width="3" height="4.4"/><rect x="896.6" y="353.6" width="3" height="4.4"/><rect x="896.6" y="369.8" width="3" height="4.4"/><rect x="896.6" y="386.0" width="3" height="4.4"/><rect x="896.6" y="402.2" width="3" height="4.4"/><rect x="896.6" y="418.4" width="3" height="4.4"/><rect x="915.1" y="321.8" width="3" height="4.4"/><rect x="915.1" y="328.2" width="3" height="4.4"/><rect x="915.1" y="344.4" width="3" height="4.4"/><rect x="915.1" y="360.6" width="3" height="4.4"/><rect x="915.1" y="376.8" width="3" height="4.4"/><rect x="915.1" y="393.0" width="3" height="4.4"/><rect x="915.1" y="409.2" width="3" height="4.4"/><rect x="915.1" y="425.4" width="3" height="4.4"/></g>
<rect x="938.5" y="446.5" width="16.5" height="81.5" fill="rgb(255,212,166)" style="mix-blend-mode:multiply"/>
<g clip-path="url(#cb5)" stroke="#404040" stroke-opacity="0.38" stroke-width="2.2"><line x1="940.0" y1="448.3" x2="954.0" y2="437.1"/><line x1="940.0" y1="469.2" x2="954.0" y2="458.0"/><line x1="940.0" y1="490.1" x2="954.0" y2="478.9"/><line x1="940.0" y1="511.0" x2="954.0" y2="499.8"/><line x1="940.0" y1="531.9" x2="954.0" y2="520.7"/><line x1="940.0" y1="552.8" x2="954.0" y2="541.6"/></g>
<g fill="#ff8a10" fill-opacity="0.5"><rect x="937.1" y="445.3" width="3" height="4.4"/><rect x="937.1" y="461.5" width="3" height="4.4"/><rect x="937.1" y="477.7" width="3" height="4.4"/><rect x="937.1" y="493.9" width="3" height="4.4"/><rect x="937.1" y="510.1" width="3" height="4.4"/><rect x="953.6" y="445.9" width="3" height="4.4"/><rect x="953.6" y="452.3" width="3" height="4.4"/><rect x="953.6" y="468.5" width="3" height="4.4"/><rect x="953.6" y="484.7" width="3" height="4.4"/><rect x="953.6" y="500.9" width="3" height="4.4"/><rect x="953.6" y="517.1" width="3" height="4.4"/></g>
<rect x="957.8" y="201.0" width="21.4" height="360.5" fill="rgb(214,174,255)" style="mix-blend-mode:multiply"/>
<g clip-path="url(#cb6)" stroke="#404040" stroke-opacity="0.38" stroke-width="2.2"><line x1="959.3" y1="202.8" x2="978.2" y2="187.7"/><line x1="959.3" y1="223.7" x2="978.2" y2="208.6"/><line x1="959.3" y1="244.6" x2="978.2" y2="229.5"/><line x1="959.3" y1="265.5" x2="978.2" y2="250.4"/><line x1="959.3" y1="286.4" x2="978.2" y2="271.3"/><line x1="959.3" y1="307.3" x2="978.2" y2="292.2"/><line x1="959.3" y1="328.2" x2="978.2" y2="313.1"/><line x1="959.3" y1="349.1" x2="978.2" y2="334.0"/><line x1="959.3" y1="370.0" x2="978.2" y2="354.9"/><line x1="959.3" y1="390.9" x2="978.2" y2="375.8"/><line x1="959.3" y1="411.8" x2="978.2" y2="396.7"/><line x1="959.3" y1="432.7" x2="978.2" y2="417.6"/><line x1="959.3" y1="453.6" x2="978.2" y2="438.5"/><line x1="959.3" y1="474.5" x2="978.2" y2="459.4"/><line x1="959.3" y1="495.4" x2="978.2" y2="480.3"/><line x1="959.3" y1="516.3" x2="978.2" y2="501.2"/><line x1="959.3" y1="537.2" x2="978.2" y2="522.1"/><line x1="959.3" y1="558.1" x2="978.2" y2="543.0"/><line x1="959.3" y1="579.0" x2="978.2" y2="563.9"/></g>
<g fill="#9a30ff" fill-opacity="0.5"><rect x="956.4" y="199.8" width="3" height="4.4"/><rect x="956.4" y="216.0" width="3" height="4.4"/><rect x="956.4" y="232.2" width="3" height="4.4"/><rect x="956.4" y="248.4" width="3" height="4.4"/><rect x="956.4" y="264.6" width="3" height="4.4"/><rect x="956.4" y="280.8" width="3" height="4.4"/><rect x="956.4" y="297.0" width="3" height="4.4"/><rect x="956.4" y="313.2" width="3" height="4.4"/><rect x="956.4" y="329.4" width="3" height="4.4"/><rect x="956.4" y="345.6" width="3" height="4.4"/><rect x="956.4" y="361.8" width="3" height="4.4"/><rect x="956.4" y="378.0" width="3" height="4.4"/><rect x="956.4" y="394.2" width="3" height="4.4"/><rect x="956.4" y="410.4" width="3" height="4.4"/><rect x="956.4" y="426.6" width="3" height="4.4"/><rect x="956.4" y="442.8" width="3" height="4.4"/><rect x="956.4" y="459.0" width="3" height="4.4"/><rect x="956.4" y="475.2" width="3" height="4.4"/><rect x="956.4" y="491.4" width="3" height="4.4"/><rect x="956.4" y="507.6" width="3" height="4.4"/><rect x="956.4" y="523.8" width="3" height="4.4"/><rect x="956.4" y="540.0" width="3" height="4.4"/><rect x="956.4" y="556.2" width="3" height="4.4"/><rect x="977.8" y="200.4" width="3" height="4.4"/><rect x="977.8" y="206.8" width="3" height="4.4"/><rect x="977.8" y="223.0" width="3" height="4.4"/><rect x="977.8" y="239.2" width="3" height="4.4"/><rect x="977.8" y="255.4" width="3" height="4.4"/><rect x="977.8" y="271.6" width="3" height="4.4"/><rect x="977.8" y="287.8" width="3" height="4.4"/><rect x="977.8" y="304.0" width="3" height="4.4"/><rect x="977.8" y="320.2" width="3" height="4.4"/><rect x="977.8" y="336.4" width="3" height="4.4"/><rect x="977.8" y="352.6" width="3" height="4.4"/><rect x="977.8" y="368.8" width="3" height="4.4"/><rect x="977.8" y="385.0" width="3" height="4.4"/><rect x="977.8" y="401.2" width="3" height="4.4"/><rect x="977.8" y="417.4" width="3" height="4.4"/><rect x="977.8" y="433.6" width="3" height="4.4"/><rect x="977.8" y="449.8" width="3" height="4.4"/><rect x="977.8" y="466.0" width="3" height="4.4"/><rect x="977.8" y="482.2" width="3" height="4.4"/><rect x="977.8" y="498.4" width="3" height="4.4"/><rect x="977.8" y="514.6" width="3" height="4.4"/><rect x="977.8" y="530.8" width="3" height="4.4"/><rect x="977.8" y="547.0" width="3" height="4.4"/></g>
<rect x="1020.0" y="87.5" width="18.2" height="684.8" fill="rgb(204,204,204)" style="mix-blend-mode:multiply"/>
<g clip-path="url(#cb7)" stroke="#404040" stroke-opacity="0.38" stroke-width="2.2"><line x1="1021.5" y1="89.3" x2="1037.2" y2="76.4"/><line x1="1021.5" y1="110.2" x2="1037.2" y2="97.3"/><line x1="1021.5" y1="131.1" x2="1037.2" y2="118.2"/><line x1="1021.5" y1="152.0" x2="1037.2" y2="139.1"/><line x1="1021.5" y1="172.9" x2="1037.2" y2="160.0"/><line x1="1021.5" y1="193.8" x2="1037.2" y2="180.9"/><line x1="1021.5" y1="214.7" x2="1037.2" y2="201.8"/><line x1="1021.5" y1="235.6" x2="1037.2" y2="222.7"/><line x1="1021.5" y1="256.5" x2="1037.2" y2="243.6"/><line x1="1021.5" y1="277.4" x2="1037.2" y2="264.5"/><line x1="1021.5" y1="298.3" x2="1037.2" y2="285.4"/><line x1="1021.5" y1="319.2" x2="1037.2" y2="306.3"/><line x1="1021.5" y1="340.1" x2="1037.2" y2="327.2"/><line x1="1021.5" y1="361.0" x2="1037.2" y2="348.1"/><line x1="1021.5" y1="381.9" x2="1037.2" y2="369.0"/><line x1="1021.5" y1="402.8" x2="1037.2" y2="389.9"/><line x1="1021.5" y1="423.7" x2="1037.2" y2="410.8"/><line x1="1021.5" y1="444.6" x2="1037.2" y2="431.7"/><line x1="1021.5" y1="465.5" x2="1037.2" y2="452.6"/><line x1="1021.5" y1="486.4" x2="1037.2" y2="473.5"/><line x1="1021.5" y1="507.3" x2="1037.2" y2="494.4"/><line x1="1021.5" y1="528.2" x2="1037.2" y2="515.3"/><line x1="1021.5" y1="549.1" x2="1037.2" y2="536.2"/><line x1="1021.5" y1="570.0" x2="1037.2" y2="557.1"/><line x1="1021.5" y1="590.9" x2="1037.2" y2="578.0"/><line x1="1021.5" y1="611.8" x2="1037.2" y2="598.9"/><line x1="1021.5" y1="632.7" x2="1037.2" y2="619.8"/><line x1="1021.5" y1="653.6" x2="1037.2" y2="640.7"/><line x1="1021.5" y1="674.5" x2="1037.2" y2="661.6"/><line x1="1021.5" y1="695.4" x2="1037.2" y2="682.5"/><line x1="1021.5" y1="716.3" x2="1037.2" y2="703.4"/><line x1="1021.5" y1="737.2" x2="1037.2" y2="724.3"/><line x1="1021.5" y1="758.1" x2="1037.2" y2="745.2"/><line x1="1021.5" y1="779.0" x2="1037.2" y2="766.1"/><line x1="1021.5" y1="799.9" x2="1037.2" y2="787.0"/></g>
<g fill="#202020" fill-opacity="0.5"><rect x="1018.6" y="86.3" width="3" height="4.4"/><rect x="1018.6" y="102.5" width="3" height="4.4"/><rect x="1018.6" y="118.7" width="3" height="4.4"/><rect x="1018.6" y="134.9" width="3" height="4.4"/><rect x="1018.6" y="151.1" width="3" height="4.4"/><rect x="1018.6" y="167.3" width="3" height="4.4"/><rect x="1018.6" y="183.5" width="3" height="4.4"/><rect x="1018.6" y="199.7" width="3" height="4.4"/><rect x="1018.6" y="215.9" width="3" height="4.4"/><rect x="1018.6" y="232.1" width="3" height="4.4"/><rect x="1018.6" y="248.3" width="3" height="4.4"/><rect x="1018.6" y="264.5" width="3" height="4.4"/><rect x="1018.6" y="280.7" width="3" height="4.4"/><rect x="1018.6" y="296.9" width="3" height="4.4"/><rect x="1018.6" y="313.1" width="3" height="4.4"/><rect x="1018.6" y="329.3" width="3" height="4.4"/><rect x="1018.6" y="345.5" width="3" height="4.4"/><rect x="1018.6" y="361.7" width="3" height="4.4"/><rect x="1018.6" y="377.9" width="3" height="4.4"/><rect x="1018.6" y="394.1" width="3" height="4.4"/><rect x="1018.6" y="410.3" width="3" height="4.4"/><rect x="1018.6" y="426.5" width="3" height="4.4"/><rect x="1018.6" y="442.7" width="3" height="4.4"/><rect x="1018.6" y="458.9" width="3" height="4.4"/><rect x="1018.6" y="475.1" width="3" height="4.4"/><rect x="1018.6" y="491.3" width="3" height="4.4"/><rect x="1018.6" y="507.5" width="3" height="4.4"/><rect x="1018.6" y="523.7" width="3" height="4.4"/><rect x="1018.6" y="539.9" width="3" height="4.4"/><rect x="1018.6" y="556.1" width="3" height="4.4"/><rect x="1018.6" y="572.3" width="3" height="4.4"/><rect x="1018.6" y="588.5" width="3" height="4.4"/><rect x="1018.6" y="604.7" width="3" height="4.4"/><rect x="1018.6" y="620.9" width="3" height="4.4"/><rect x="1018.6" y="637.1" width="3" height="4.4"/><rect x="1018.6" y="653.3" width="3" height="4.4"/><rect x="1018.6" y="669.5" width="3" height="4.4"/><rect x="1018.6" y="685.7" width="3" height="4.4"/><rect x="1018.6" y="701.9" width="3" height="4.4"/><rect x="1018.6" y="718.1" width="3" height="4.4"/><rect x="1018.6" y="734.3" width="3" height="4.4"/><rect x="1018.6" y="750.5" width="3" height="4.4"/><rect x="1018.6" y="766.7" width="3" height="4.4"/><rect x="1036.8" y="88.0" width="3" height="4.4"/><rect x="1036.8" y="104.2" width="3" height="4.4"/><rect x="1036.8" y="120.4" width="3" height="4.4"/><rect x="1036.8" y="136.6" width="3" height="4.4"/><rect x="1036.8" y="152.8" width="3" height="4.4"/><rect x="1036.8" y="169.0" width="3" height="4.4"/><rect x="1036.8" y="185.2" width="3" height="4.4"/><rect x="1036.8" y="201.4" width="3" height="4.4"/><rect x="1036.8" y="217.6" width="3" height="4.4"/><rect x="1036.8" y="233.8" width="3" height="4.4"/><rect x="1036.8" y="250.0" width="3" height="4.4"/><rect x="1036.8" y="266.2" width="3" height="4.4"/><rect x="1036.8" y="282.4" width="3" height="4.4"/><rect x="1036.8" y="298.6" width="3" height="4.4"/><rect x="1036.8" y="314.8" width="3" height="4.4"/><rect x="1036.8" y="331.0" width="3" height="4.4"/><rect x="1036.8" y="347.2" width="3" height="4.4"/><rect x="1036.8" y="363.4" width="3" height="4.4"/><rect x="1036.8" y="379.6" width="3" height="4.4"/><rect x="1036.8" y="395.8" width="3" height="4.4"/><rect x="1036.8" y="412.0" width="3" height="4.4"/><rect x="1036.8" y="428.2" width="3" height="4.4"/><rect x="1036.8" y="444.4" width="3" height="4.4"/><rect x="1036.8" y="460.6" width="3" height="4.4"/><rect x="1036.8" y="476.8" width="3" height="4.4"/><rect x="1036.8" y="493.0" width="3" height="4.4"/><rect x="1036.8" y="509.2" width="3" height="4.4"/><rect x="1036.8" y="525.4" width="3" height="4.4"/><rect x="1036.8" y="541.6" width="3" height="4.4"/><rect x="1036.8" y="557.8" width="3" height="4.4"/><rect x="1036.8" y="574.0" width="3" height="4.4"/><rect x="1036.8" y="590.2" width="3" height="4.4"/><rect x="1036.8" y="606.4" width="3" height="4.4"/><rect x="1036.8" y="622.6" width="3" height="4.4"/><rect x="1036.8" y="638.8" width="3" height="4.4"/><rect x="1036.8" y="655.0" width="3" height="4.4"/><rect x="1036.8" y="671.2" width="3" height="4.4"/><rect x="1036.8" y="687.4" width="3" height="4.4"/><rect x="1036.8" y="703.6" width="3" height="4.4"/><rect x="1036.8" y="719.8" width="3" height="4.4"/><rect x="1036.8" y="736.0" width="3" height="4.4"/><rect x="1036.8" y="752.2" width="3" height="4.4"/><rect x="1036.8" y="768.4" width="3" height="4.4"/></g>
<g fill="#000"><rect x="79.1" y="22.8" width="3.7" height="762"/><rect x="1282.2" y="22.8" width="3.8" height="762"/><rect x="79.1" y="22.8" width="1206.9" height="3.0"/><rect x="79.1" y="780.9" width="1206.9" height="3.8"/></g>
<rect x="217" y="24.4" width="69" height="6" fill="#fff"/>
<line x1="1133.8" y1="782" x2="1133.8" y2="767.9" stroke="#000" stroke-width="3.7"/>
<line x1="983.2" y1="782" x2="983.2" y2="767.9" stroke="#000" stroke-width="3.7"/>
<line x1="832.7" y1="782" x2="832.7" y2="767.9" stroke="#000" stroke-width="3.7"/>
<line x1="682.2" y1="782" x2="682.2" y2="767.9" stroke="#000" stroke-width="3.7"/>
<line x1="531.7" y1="782" x2="531.7" y2="767.9" stroke="#000" stroke-width="3.7"/>
<line x1="381.1" y1="782" x2="381.1" y2="767.9" stroke="#000" stroke-width="3.7"/>
<line x1="230.6" y1="782" x2="230.6" y2="767.9" stroke="#000" stroke-width="3.7"/>
<line x1="1209.0" y1="782" x2="1209.0" y2="775.9" stroke="#000" stroke-width="3.7"/>
<line x1="1058.5" y1="782" x2="1058.5" y2="775.9" stroke="#000" stroke-width="3.7"/>
<line x1="908.0" y1="782" x2="908.0" y2="775.9" stroke="#000" stroke-width="3.7"/>
<line x1="757.5" y1="782" x2="757.5" y2="775.9" stroke="#000" stroke-width="3.7"/>
<line x1="606.9" y1="782" x2="606.9" y2="775.9" stroke="#000" stroke-width="3.7"/>
<line x1="456.4" y1="782" x2="456.4" y2="775.9" stroke="#000" stroke-width="3.7"/>
<line x1="305.9" y1="782" x2="305.9" y2="775.9" stroke="#000" stroke-width="3.7"/>
<line x1="155.4" y1="782" x2="155.4" y2="775.9" stroke="#000" stroke-width="3.7"/>
<text transform="translate(1284.3,824.0) scale(1.2,1)" text-anchor="middle" font-size="32.5" font-family="Liberation Serif, serif" >0</text>
<text transform="translate(1133.8,824.0) scale(1.2,1)" text-anchor="middle" font-size="32.5" font-family="Liberation Serif, serif" >500</text>
<text transform="translate(983.2,824.0) scale(1.2,1)" text-anchor="middle" font-size="32.5" font-family="Liberation Serif, serif" >1000</text>
<text transform="translate(832.7,824.0) scale(1.2,1)" text-anchor="middle" font-size="32.5" font-family="Liberation Serif, serif" >1500</text>
<text transform="translate(682.2,824.0) scale(1.2,1)" text-anchor="middle" font-size="32.5" font-family="Liberation Serif, serif" >2000</text>
<text transform="translate(531.7,824.0) scale(1.2,1)" text-anchor="middle" font-size="32.5" font-family="Liberation Serif, serif" >2500</text>
<text transform="translate(381.1,824.0) scale(1.2,1)" text-anchor="middle" font-size="32.5" font-family="Liberation Serif, serif" >3000</text>
<text transform="translate(230.6,824.0) scale(1.2,1)" text-anchor="middle" font-size="32.5" font-family="Liberation Serif, serif" >3500</text>
<text transform="translate(80.1,824.0) scale(1.2,1)" text-anchor="middle" font-size="32.5" font-family="Liberation Serif, serif" >4000</text>
<text transform="translate(515.5,886.5) scale(1.142,1)" text-anchor="start" font-size="40" font-family="Liberation Serif, serif">Wavenumber/cm<tspan font-size="25" dy="-15.5">-1</tspan></text>
<text transform="translate(42.8,400.5) rotate(-90)" text-anchor="middle" font-size="39.3" font-family="Liberation Serif, serif">% Transimittance</text>
<line x1="247" y1="56.5" x2="247" y2="83" stroke="#000" stroke-width="3"/>
<line x1="418.5" y1="58" x2="418.5" y2="82" stroke="#000" stroke-width="3"/>
<line x1="803.5" y1="55" x2="803.5" y2="86" stroke="#000" stroke-width="3"/>
<line x1="1027" y1="60.5" x2="1027" y2="87" stroke="#000" stroke-width="3"/>
<line x1="969.5" y1="99.4" x2="969.5" y2="201" stroke="#000" stroke-width="3"/>
<line x1="865.2" y1="141" x2="865.2" y2="283" stroke="#000" stroke-width="1.6"/>
<line x1="912.2" y1="183" x2="905.0" y2="322" stroke="#000" stroke-width="1.6"/>
<line x1="919.2" y1="183" x2="944.7" y2="447" stroke="#000" stroke-width="1.6"/>
<text transform="translate(252,54.7) scale(1.175,1)" text-anchor="middle" font-size="29" font-family="Liberation Serif, serif" >-OH</text>
<text transform="translate(381,57) scale(1.175,1)" text-anchor="start" font-size="29" font-family="Liberation Serif, serif">-CH<tspan font-size="19" dy="7.7" dx="-1">2</tspan></text>
<text transform="translate(799,58.9) scale(1.175,1)" text-anchor="middle" font-size="29" font-family="Liberation Serif, serif" >C=O</text>
<text transform="translate(1035,58.9) scale(1.175,1)" text-anchor="middle" font-size="29" font-family="Liberation Serif, serif" >Si-O</text>
<text transform="translate(960,94.8) scale(1.175,1)" text-anchor="middle" font-size="29" font-family="Liberation Serif, serif" >Si-O-Si</text>
<text transform="translate(867,138) scale(1.175,1)" text-anchor="middle" font-size="29" font-family="Liberation Serif, serif" >-OH</text>
<text transform="translate(916,180.3) scale(1.175,1)" text-anchor="middle" font-size="29" font-family="Liberation Serif, serif" >C-O</text>
<text transform="translate(1183.8,234.5) scale(1.23,1)" text-anchor="start" font-size="30" font-family="Liberation Serif, serif" >(f)</text>
<text transform="translate(1183.8,291.5) scale(1.23,1)" text-anchor="start" font-size="30" font-family="Liberation Serif, serif" >(e)</text>
<text transform="translate(1183.8,340) scale(1.23,1)" text-anchor="start" font-size="30" font-family="Liberation Serif, serif" >(d)</text>
<text transform="translate(1183.8,452.5) scale(1.23,1)" text-anchor="start" font-size="30" font-family="Liberation Serif, serif" >(c)</text>
<text transform="translate(1183.8,533.5) scale(1.23,1)" text-anchor="start" font-size="30" font-family="Liberation Serif, serif" >(b)</text>
<text transform="translate(1183.8,573) scale(1.23,1)" text-anchor="start" font-size="30" font-family="Liberation Serif, serif" >(a)</text>
</svg></body></html>
